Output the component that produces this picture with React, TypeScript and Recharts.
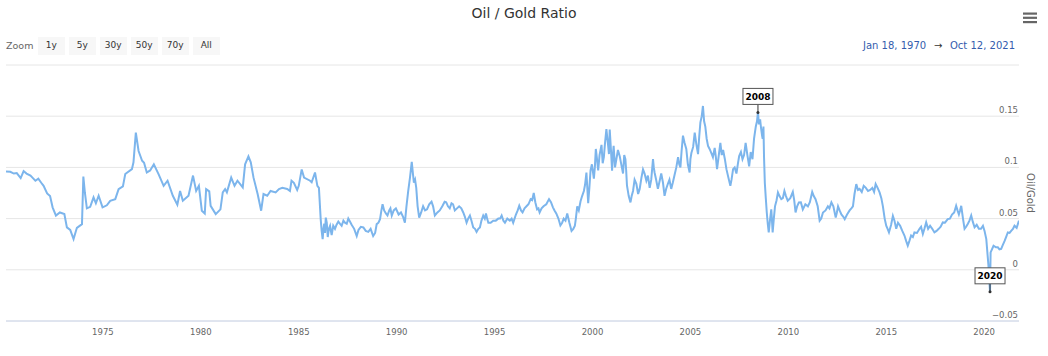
import React from 'react'
import {
  LineChart,
  Line,
  XAxis,
  YAxis,
  CartesianGrid,
  ReferenceDot,
} from 'recharts'

// Oil / Gold ratio (decimal years)
const years = [
  1970.05, 1970.27, 1970.45, 1970.6, 1970.8, 1970.95, 1971.1, 1971.3, 1971.45, 1971.55,
  1971.7, 1971.85, 1971.97, 1972.15, 1972.3, 1972.43, 1972.6, 1972.8, 1973.03, 1973.16,
  1973.33, 1973.5, 1973.67, 1973.93, 1974.0, 1974.08, 1974.18, 1974.35, 1974.52, 1974.64,
  1974.78, 1974.98, 1975.2, 1975.37, 1975.63, 1975.8, 1976.02, 1976.14, 1976.48, 1976.56,
  1976.68, 1976.82, 1977.0, 1977.1, 1977.24, 1977.41, 1977.6, 1977.84, 1978.1, 1978.3,
  1978.57, 1978.8, 1978.94, 1979.08, 1979.37, 1979.6, 1979.76, 1979.9, 1980.05, 1980.2,
  1980.27, 1980.43, 1980.5, 1980.76, 1981.0, 1981.12, 1981.24, 1981.33, 1981.55, 1981.72,
  1981.87, 1982.14, 1982.26, 1982.43, 1982.55, 1982.69, 1982.9, 1983.08, 1983.2, 1983.39,
  1983.56, 1983.82, 1983.99, 1984.16, 1984.41, 1984.55, 1984.63, 1984.75, 1984.92, 1985.0,
  1985.15, 1985.27, 1985.58, 1985.66, 1985.83, 1985.95, 1986.03, 1986.12, 1986.22, 1986.3,
  1986.38, 1986.48, 1986.6, 1986.68, 1986.85, 1987.02, 1987.19, 1987.36, 1987.53, 1987.7,
  1987.96, 1988.05, 1988.3, 1988.55, 1988.8, 1988.98, 1989.15, 1989.28, 1989.45, 1989.62,
  1989.75, 1989.96, 1990.22, 1990.42, 1990.59, 1990.77, 1990.88, 1991.0, 1991.15, 1991.35,
  1991.55, 1991.78, 1991.95, 1992.2, 1992.45, 1992.62, 1992.8, 1992.97, 1993.19, 1993.4,
  1993.57, 1993.74, 1993.91, 1994.08, 1994.25, 1994.42, 1994.56, 1994.68, 1994.93, 1995.19,
  1995.36, 1995.53, 1995.78, 1995.95, 1996.09, 1996.26, 1996.43, 1996.63, 1996.84, 1997.0,
  1997.17, 1997.3, 1997.5, 1997.78, 1997.98, 1998.15, 1998.36, 1998.53, 1998.71, 1998.93,
  1999.1, 1999.22, 1999.39, 1999.56, 1999.69, 1999.78, 1999.9, 2000.07, 2000.17, 2000.29,
  2000.46, 2000.58, 2000.71, 2000.8, 2000.88, 2001.0, 2001.08, 2001.22, 2001.39, 2001.56,
  2001.68, 2001.76, 2001.94, 2002.07, 2002.24, 2002.41, 2002.58, 2002.75, 2002.92, 2003.09,
  2003.17, 2003.34, 2003.51, 2003.68, 2003.85, 2004.02, 2004.19, 2004.37, 2004.49, 2004.62,
  2004.79, 2004.96, 2005.05, 2005.22, 2005.39, 2005.51, 2005.64, 2005.76, 2005.9, 2006.07,
  2006.24, 2006.36, 2006.53, 2006.67, 2006.84, 2007.04, 2007.18, 2007.35, 2007.49, 2007.66,
  2007.82, 2008.0, 2008.17, 2008.34, 2008.45, 2008.56, 2008.66, 2008.73, 2008.8, 2008.9,
  2009.0, 2009.13, 2009.2, 2009.32, 2009.47, 2009.64, 2009.8, 2009.97, 2010.23, 2010.37,
  2010.54, 2010.74, 2011.0, 2011.22, 2011.39, 2011.6, 2011.77, 2012.02, 2012.2, 2012.42,
  2012.54, 2012.71, 2012.88, 2013.13, 2013.3, 2013.47, 2013.64, 2013.85, 2014.07, 2014.29,
  2014.46, 2014.66, 2014.83, 2015.0, 2015.14, 2015.34, 2015.51, 2015.71, 2015.93, 2016.1,
  2016.27, 2016.44, 2016.7, 2016.87, 2017.04, 2017.24, 2017.46, 2017.68, 2017.89, 2018.14,
  2018.36, 2018.57, 2018.71, 2018.83, 2019.0, 2019.17, 2019.34, 2019.51, 2019.73, 2019.94,
  2020.11, 2020.22, 2020.3, 2020.33, 2020.48, 2020.7, 2020.87, 2021.04, 2021.21, 2021.38,
  2021.55, 2021.78,
]

const ratios = [
  0.096, 0.0957, 0.094, 0.0944, 0.0895, 0.0964, 0.094, 0.092, 0.089, 0.087,
  0.089, 0.085, 0.082, 0.0746, 0.072, 0.061, 0.053, 0.056, 0.0544, 0.0414,
  0.039, 0.03, 0.041, 0.0446, 0.091, 0.075, 0.06, 0.0615, 0.0707, 0.065,
  0.0723, 0.061, 0.063, 0.0674, 0.069, 0.0788, 0.0814, 0.0935, 0.0983, 0.105,
  0.134, 0.116, 0.1065, 0.1045, 0.095, 0.097, 0.103, 0.0935, 0.082, 0.087,
  0.0723, 0.0635, 0.077, 0.0674, 0.0723, 0.092, 0.077, 0.082, 0.0577, 0.055,
  0.0788, 0.0766, 0.0625, 0.0544, 0.059, 0.0756, 0.0788, 0.0756, 0.09, 0.082,
  0.087, 0.0805, 0.103, 0.1107, 0.105, 0.09, 0.074, 0.0577, 0.074, 0.0723,
  0.077, 0.0756, 0.0788, 0.08, 0.079, 0.077, 0.087, 0.085, 0.078, 0.082,
  0.098, 0.09, 0.087, 0.0855, 0.095, 0.082, 0.08, 0.0495, 0.03, 0.045,
  0.051, 0.032, 0.043, 0.034, 0.04, 0.047, 0.043, 0.046, 0.05, 0.044,
  0.033, 0.039, 0.0414, 0.037, 0.033, 0.0446, 0.0495, 0.064, 0.055, 0.058,
  0.053, 0.06, 0.056, 0.046, 0.077, 0.1055, 0.085, 0.08, 0.051, 0.062,
  0.059, 0.0665, 0.053, 0.058, 0.0665, 0.062, 0.065, 0.058, 0.062, 0.056,
  0.046, 0.053, 0.0414, 0.037, 0.0414, 0.053, 0.055, 0.046, 0.048, 0.05,
  0.053, 0.046, 0.048, 0.046, 0.054, 0.0625, 0.056, 0.062, 0.069, 0.075,
  0.059, 0.056, 0.062, 0.069, 0.061, 0.055, 0.0433, 0.05, 0.055, 0.038,
  0.043, 0.062, 0.067, 0.077, 0.095, 0.065, 0.097, 0.089, 0.118, 0.097,
  0.122, 0.11, 0.1374, 0.121, 0.137, 0.0967, 0.121, 0.108, 0.111, 0.094,
  0.108, 0.0825, 0.0658, 0.077, 0.084, 0.079, 0.098, 0.087, 0.08, 0.108,
  0.095, 0.079, 0.094, 0.0723, 0.084, 0.079, 0.0925, 0.11, 0.1, 0.131,
  0.118, 0.095, 0.114, 0.134, 0.113, 0.144, 0.16, 0.14, 0.121, 0.114,
  0.119, 0.0983, 0.124, 0.117, 0.0983, 0.082, 0.0983, 0.094, 0.111, 0.108,
  0.124, 0.101, 0.108, 0.14, 0.1537, 0.147, 0.131, 0.14, 0.085, 0.056,
  0.0365, 0.059, 0.0365, 0.062, 0.0756, 0.069, 0.077, 0.0674, 0.076, 0.056,
  0.0658, 0.059, 0.062, 0.076, 0.069, 0.048, 0.056, 0.062, 0.0658, 0.051,
  0.062, 0.054, 0.0495, 0.058, 0.062, 0.0837, 0.079, 0.082, 0.077, 0.08,
  0.0837, 0.0756, 0.062, 0.043, 0.0365, 0.0527, 0.04, 0.043, 0.0335, 0.0235,
  0.0335, 0.0365, 0.04, 0.035, 0.0463, 0.043, 0.0365, 0.04, 0.0463, 0.0495,
  0.054, 0.0625, 0.054, 0.0625, 0.04, 0.045, 0.053, 0.0415, 0.04, 0.043,
  0.03, 0.004, -0.0215, 0.017, 0.0235, 0.022, 0.0205, 0.028, 0.0365, 0.038,
  0.043, 0.048,
]

// extra readings from the noisy band (1986 onwards)
const detailYears = [
  1986.17, 1986.26, 1986.34, 1986.43, 1986.54, 1986.64, 1986.76, 1986.93, 1987.1, 1987.28,
  1987.45, 1987.62, 1987.83, 1988.17, 1988.42, 1988.67, 1988.9, 1989.07, 1989.22, 1989.36,
  1989.53, 1989.68, 1989.85, 1990.1, 1990.32, 1990.5, 1990.68, 1990.83, 1990.94, 1991.07,
  1991.25, 1991.45, 1991.66, 1991.86, 1992.08, 1992.33, 1992.53, 1992.71, 1992.88, 1993.08,
  1993.3, 1993.48, 1993.65, 1993.82, 1994.0, 1994.17, 1994.33, 1994.5, 1994.62, 1994.8,
  1995.06, 1995.28, 1995.45, 1995.65, 1995.87, 1996.02, 1996.18, 1996.35, 1996.53, 1996.73,
  1996.92, 1997.08, 1997.24, 1997.4, 1997.64, 1997.88, 1998.06, 1998.26, 1998.45, 1998.62,
  1998.82, 1999.02, 1999.15, 1999.3, 1999.47, 1999.62, 1999.84, 1999.97, 2000.12, 2000.23,
  2000.36, 2000.52, 2000.64, 2000.76, 2000.84, 2000.94, 2001.04, 2001.15, 2001.3, 2001.47,
  2001.62, 2001.72, 2001.85, 2002.0, 2002.15, 2002.33, 2002.5, 2002.66, 2002.83, 2003.0,
  2003.13, 2003.25, 2003.42, 2003.6, 2003.76, 2003.93, 2004.1, 2004.28, 2004.43, 2004.55,
  2004.7, 2004.87, 2005.0, 2005.14, 2005.3, 2005.45, 2005.58, 2005.7, 2005.83, 2005.98,
  2006.15, 2006.3, 2006.45, 2006.6, 2006.76, 2006.94, 2007.1, 2007.26, 2007.42, 2007.58,
  2007.74, 2007.91, 2008.08, 2008.25, 2008.4, 2008.5, 2008.61, 2008.69, 2008.76, 2008.85,
  2008.95, 2009.06, 2009.16, 2009.26, 2009.4, 2009.55, 2009.72, 2009.88, 2010.1, 2010.3,
  2010.45, 2010.64, 2010.87, 2011.1, 2011.3, 2011.5, 2011.68, 2011.9, 2012.1, 2012.3,
  2012.48, 2012.62, 2012.8, 2013.0, 2013.22, 2013.38, 2013.56, 2013.75, 2013.96, 2014.18,
  2014.38, 2014.56, 2014.75, 2014.92, 2015.07, 2015.25, 2015.42, 2015.6, 2015.82, 2016.02,
  2016.18, 2016.36, 2016.57, 2016.78, 2016.95, 2017.14, 2017.35, 2017.57, 2017.78, 2018.0,
  2018.25, 2018.47, 2018.64, 2018.77, 2018.92, 2019.08, 2019.25, 2019.42, 2019.62, 2019.84,
  2020.02, 2020.6, 2020.78, 2020.95, 2021.12, 2021.3, 2021.47, 2021.66,
]

const detailRatios = [
  0.038, 0.04, 0.036, 0.046, 0.04, 0.038, 0.043, 0.044, 0.045, 0.048,
  0.045, 0.047, 0.04, 0.042, 0.038, 0.04, 0.036, 0.046, 0.058, 0.058,
  0.053, 0.06, 0.058, 0.054, 0.052, 0.062, 0.09, 0.094, 0.088, 0.062,
  0.056, 0.058, 0.064, 0.062, 0.056, 0.062, 0.066, 0.06, 0.064, 0.06,
  0.06, 0.052, 0.05, 0.048, 0.04, 0.04, 0.048, 0.05, 0.05, 0.046,
  0.048, 0.05, 0.048, 0.05, 0.05, 0.05, 0.058, 0.058, 0.06, 0.064,
  0.068, 0.066, 0.06, 0.06, 0.064, 0.066, 0.058, 0.05, 0.046, 0.048,
  0.046, 0.04, 0.05, 0.058, 0.072, 0.083, 0.08, 0.103, 0.1, 0.108,
  0.112, 0.104, 0.124, 0.128, 0.113, 0.118, 0.112, 0.1, 0.117, 0.103,
  0.112, 0.097, 0.072, 0.072, 0.088, 0.074, 0.09, 0.094, 0.092, 0.088,
  0.1, 0.088, 0.086, 0.085, 0.079, 0.088, 0.085, 0.1, 0.103, 0.116,
  0.124, 0.103, 0.108, 0.12, 0.123, 0.13, 0.15, 0.145, 0.128, 0.118,
  0.11, 0.11, 0.112, 0.112, 0.108, 0.09, 0.088, 0.1, 0.103, 0.115,
  0.112, 0.112, 0.115, 0.128, 0.145, 0.142, 0.138, 0.128, 0.11, 0.07,
  0.045, 0.048, 0.05, 0.05, 0.068, 0.072, 0.07, 0.072, 0.07, 0.068,
  0.062, 0.066, 0.064, 0.066, 0.072, 0.062, 0.05, 0.058, 0.06, 0.062,
  0.056, 0.058, 0.052, 0.054, 0.06, 0.074, 0.078, 0.076, 0.08, 0.078,
  0.076, 0.08, 0.07, 0.05, 0.04, 0.044, 0.048, 0.046, 0.038, 0.028,
  0.028, 0.032, 0.036, 0.042, 0.04, 0.04, 0.04, 0.038, 0.042, 0.046,
  0.05, 0.056, 0.058, 0.058, 0.05, 0.042, 0.048, 0.047, 0.044, 0.04,
  0.038, 0.022, 0.02, 0.024, 0.032, 0.036, 0.04, 0.041,
]

const xTicks = [1975, 1980, 1985, 1990, 1995, 2000, 2005, 2010, 2015, 2020]
const yTicks = [-0.05, 0, 0.05, 0.1, 0.15, 0.2]
const zoomButtons = ['1y', '5y', '30y', '50y', '70y', 'All']
const annotations = [
  { t: 2008.45, v: 0.1537, text: '2008' },
  { t: 2020.3, v: -0.0215, text: '2020' },
]

const data = years
  .map((t, i) => ({ t, v: ratios[i] }))
  .concat(detailYears.map((t, i) => ({ t, v: detailRatios[i] })))
  .sort((a, b) => a.t - b.t)

const FONT = '"DejaVu Sans", "Lucida Grande", Arial, sans-serif'

const fmtY = (v: number) => (v < 0 ? '\u2212' + String(-v) : String(v))

function RightTick(props: any) {
  const { x, y, payload } = props
  if (payload.value === 0.2) return null
  return (
    <text x={x - 1} y={y - 3} textAnchor="end" fill="#666" fontSize={8.5} fontFamily={FONT}>
      {fmtY(payload.value)}
    </text>
  )
}

function FlagLabel({ cx, cy, text }: any) {
  if (cx == null || cy == null) return null
  return (
    <g>
      <line x1={cx} y1={cy} x2={cx} y2={cy - 8} stroke="#333" strokeWidth={1} />
      <circle cx={cx} cy={cy} r={1.5} fill="#333" />
      <rect x={cx - 15} y={cy - 24} width={30} height={16} fill="#fff" stroke="#555" strokeWidth={1} />
      <text x={cx} y={cy - 12.5} textAnchor="middle" fontSize={9} fontWeight="bold" fill="#000" fontFamily={FONT}>
        {text}
      </text>
    </g>
  )
}

export default function App() {
  return (
    <div style={{ position: 'absolute', left: 0, top: 0, width: 1048, height: 356, background: '#fff', fontFamily: FONT }}>
      <LineChart width={1048} height={356} data={data} margin={{ top: 65, right: 0, bottom: 5, left: 6 }}>
        <CartesianGrid stroke="#e6e6e6" vertical={false} />
        <XAxis
          dataKey="t"
          type="number"
          domain={[1970.05, 2021.78]}
          ticks={xTicks}
          interval={0}
          allowDataOverflow
          height={30}
          axisLine={{ stroke: '#ccd6eb' }}
          tickLine={false}
          tick={{ fill: '#666', fontSize: 8.5, fontFamily: FONT }}
        />
        <YAxis
          orientation="right"
          domain={[-0.05, 0.2]}
          ticks={yTicks}
          interval={0}
          width={29}
          axisLine={false}
          tickLine={false}
          tickSize={0}
          tickMargin={0}
          tick={<RightTick />}
          label={{
            value: 'Oil/Gold',
            angle: 90,
            position: 'center',
            dx: -3,
            fill: '#666',
            fontSize: 10,
            fontFamily: FONT,
          }}
        />
        <Line
          type="linear"
          dataKey="v"
          stroke="#7cb5ec"
          strokeWidth={2}
          dot={false}
          activeDot={false}
          isAnimationActive={false}
        />
        {annotations.map((a) => (
          <ReferenceDot
            key={a.text}
            x={a.t}
            y={a.v}
            r={2}
            shape={(p: any) => <FlagLabel cx={p.cx} cy={p.cy} text={a.text} />}
          />
        ))}
      </LineChart>

      {/* title */}
      <div style={{ position: 'absolute', left: 0, top: 5, width: 1048, textAlign: 'center', fontSize: 14, color: '#333' }}>
        Oil / Gold Ratio
      </div>

      {/* export menu */}
      <svg style={{ position: 'absolute', left: 1020, top: 10 }} width={20} height={16}>
        <rect x={3} y={2.5} width={14} height={2.2} fill="#666" />
        <rect x={3} y={6.7} width={14} height={2.2} fill="#666" />
        <rect x={3} y={11} width={14} height={2.2} fill="#666" />
      </svg>

      {/* range selector */}
      <div style={{ position: 'absolute', left: 6, top: 39, fontSize: 9.5, color: '#666', lineHeight: '14px' }}>Zoom</div>
      {zoomButtons.map((b, i) => (
        <div
          key={b}
          style={{
            position: 'absolute',
            left: 38 + i * 31,
            top: 37,
            width: 26.5,
            height: 17.5,
            background: '#f7f7f7',
            color: '#333',
            fontSize: 9,
            lineHeight: '17.5px',
            textAlign: 'center',
          }}
        >
          {b}
        </div>
      ))}
      <div style={{ position: 'absolute', left: 863, top: 39, fontSize: 10, color: '#335cad', lineHeight: '14px', whiteSpace: 'nowrap' }}>Jan 18, 1970</div>
      <div style={{ position: 'absolute', left: 934, top: 39, fontSize: 10, color: '#333', lineHeight: '14px' }}>{'\u2192'}</div>
      <div style={{ position: 'absolute', right: 33, top: 39, fontSize: 10, color: '#335cad', lineHeight: '14px', whiteSpace: 'nowrap' }}>Oct 12, 2021</div>
    </div>
  )
}
